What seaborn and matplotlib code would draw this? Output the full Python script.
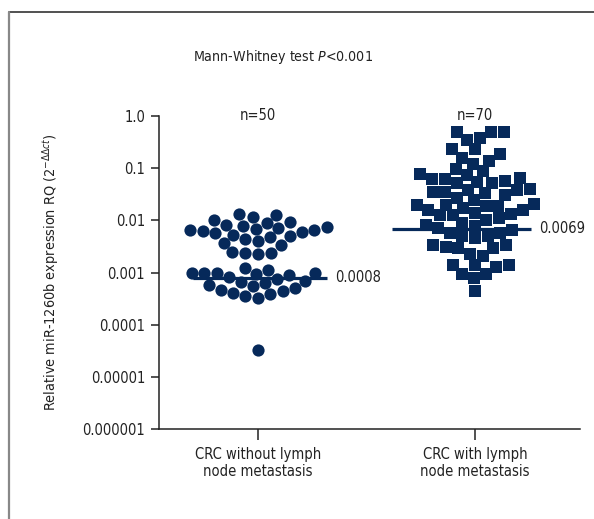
import numpy as np
import pandas as pd
import matplotlib
matplotlib.use('Agg')
import matplotlib.pyplot as plt
from matplotlib.lines import Line2D
import seaborn as sns

# datos
categorias = ['CRC without lymph\nnode metastasis', 'CRC with lymph\nnode metastasis']
sin_metastasis = [0.013, 0.0125, 0.0115, 0.010, 0.0092, 0.0087, 0.0082, 0.0078,
                  0.0074, 0.0071, 0.0068, 0.0066, 0.0065, 0.0062, 0.0059, 0.0056,
                  0.0053, 0.0050, 0.0047, 0.0044, 0.0040, 0.0037, 0.0034,
                  0.0025, 0.0024, 0.0024, 0.0023,
                  0.0012, 0.0011, 0.0010, 0.0010, 0.0010, 0.0010, 0.00092, 0.00088,
                  0.00082, 0.00075, 0.0007, 0.00066, 0.00062, 0.00058, 0.00054,
                  0.0005, 0.00047, 0.00044, 0.00041, 0.00038, 0.00035, 0.00033, 0.000032]
con_metastasis = [0.49, 0.49, 0.49, 0.38, 0.35, 0.23, 0.23, 0.19, 0.16, 0.14,
                  0.12, 0.096, 0.088, 0.077, 0.074, 0.064, 0.062, 0.062, 0.058, 0.054,
                  0.051, 0.051, 0.039, 0.038, 0.038, 0.035, 0.035, 0.033, 0.030, 0.027,
                  0.024, 0.021, 0.020, 0.020, 0.019, 0.019, 0.017, 0.016, 0.016, 0.014,
                  0.013, 0.0125, 0.0125, 0.011, 0.010, 0.0088, 0.0082, 0.0078, 0.0072, 0.0066,
                  0.0058, 0.0056, 0.0049, 0.0049, 0.0045, 0.0033, 0.0033, 0.0031, 0.0030, 0.0029,
                  0.0023, 0.0021, 0.0014, 0.0014, 0.0014, 0.0013, 0.00095, 0.00095, 0.00077, 0.00045]
medianas = [0.0008, 0.0069]
etiquetas_mediana = ['0.0008', '0.0069']
etiquetas_n = ['n=50', 'n=70']
yticks = [1.0, 0.1, 0.01, 0.001, 0.0001, 0.00001, 0.000001]
ytick_labels = ['1.0', '0.1', '0.01', '0.001', '0.0001', '0.00001', '0.000001']

df = pd.DataFrame({
    'grupo': [categorias[0]] * len(sin_metastasis) + [categorias[1]] * len(con_metastasis),
    'rq': sin_metastasis + con_metastasis,
})

sns.set_style('ticks')
fuente = ['DejaVu Sans Condensed', 'Liberation Sans Narrow', 'DejaVu Sans']
plt.rcParams['font.family'] = fuente
plt.rcParams['font.stretch'] = 'condensed'
plt.rcParams['mathtext.fontset'] = 'custom'
plt.rcParams['mathtext.rm'] = 'DejaVu Sans'
plt.rcParams['mathtext.it'] = 'DejaVu Sans:italic'

azul = '#06295a'
texto = '#222222'
fs = 10.5

fig = plt.figure(figsize=(5.94, 5.19), dpi=100)
ax = fig.add_axes([0.2677, 0.1734, 0.7087, 0.6031])
ax.set_yscale('log')
ax.set_ylim(1e-6, 1.0)

marcadores = ['o', 's']
for i, cat in enumerate(categorias):
    sns.swarmplot(data=df[df['grupo'] == cat], x='grupo', y='rq', order=categorias,
                  color=azul, marker=marcadores[i], size=8.8, linewidth=0,
                  ax=ax, zorder=3, warn_thresh=1.0)

# linea de la mediana: extremos izquierdo/derecho respecto a la categoria
extremos = [(-0.30, 0.32), (-0.38, 0.26)]
for i, m in enumerate(medianas):
    ax.hlines(m, i + extremos[i][0], i + extremos[i][1], color=azul, lw=2.3, zorder=2)
    ax.text(i + extremos[i][1] + 0.035, m, etiquetas_mediana[i], fontsize=fs,
            color=texto, ha='left', va='center')
    ax.text(i, 1.0, etiquetas_n[i], fontsize=fs, color=texto, ha='center',
            va='center', clip_on=False)

ax.set_xlim(-0.456, 1.484)
ax.set_yticks(yticks)
ax.set_yticklabels(ytick_labels)
ax.yaxis.set_minor_locator(matplotlib.ticker.NullLocator())
ax.tick_params(axis='y', length=6, width=1.1, colors=texto, labelsize=fs, pad=4)
ax.tick_params(axis='x', length=8, width=1.1, colors=texto, labelsize=fs, pad=5)
ax.set_xlabel('')
ax.set_ylabel(r'Relative miR-1260b expression RQ (2$^{-\Delta\Delta ct}$)',
              fontsize=10.4, color=texto, labelpad=15)
for lado in ['top', 'right']:
    ax.spines[lado].set_visible(False)
for lado in ['left', 'bottom']:
    ax.spines[lado].set_color(texto)
    ax.spines[lado].set_linewidth(1.1)

fig.text(0.476, 0.89, r'Mann-Whitney test $\it{P}$<0.001', fontsize=10.2,
         color=texto, ha='center', va='center')

# marco de la figura (arriba y a la izquierda)
fig.add_artist(Line2D([9 / 594, 1.0], [1 - 12 / 519, 1 - 12 / 519],
                      transform=fig.transFigure, color='#333333', lw=1.2))
fig.add_artist(Line2D([9 / 594, 9 / 594], [0.0, 1 - 12 / 519],
                      transform=fig.transFigure, color='#888888', lw=1.6))

fig.savefig('out.png', dpi=100)
